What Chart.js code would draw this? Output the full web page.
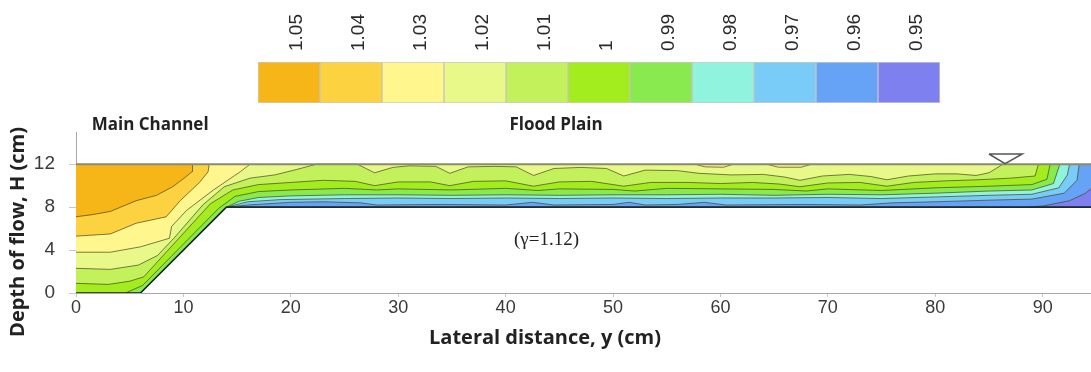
<!DOCTYPE html>
<html>
<head>
<meta charset="utf-8">
<script src="https://cdn.jsdelivr.net/npm/chart.js@4.4.0/dist/chart.umd.min.js"></script>
<style>
	body { margin: 0; background: #fff; }
	#wrap { position: relative; width: 1091px; height: 372px; }
	#main { position: absolute; left: 0; top: 0; }
	#scale { position: absolute; left: 250px; top: 0; }
</style>
</head>
<body>
<div id="wrap">
	<canvas id="main" width="1091" height="372"></canvas>
	<canvas id="scale" width="700" height="108"></canvas>
</div>
<script>
// colour scale (labels sit on the right edge of each cell)
const levelLabels = ['1.05', '1.04', '1.03', '1.02', '1.01', '1', '0.99', '0.98', '0.97', '0.96', '0.95'];
const levelColors = ['#f7b618', '#fcd241', '#fff68e', '#e8f98a', '#c3f15b', '#a3ec1d', '#89ea50', '#8ff3dd', '#79cbf8', '#66a2f5', '#7e80ef'];

// channel section [y (cm), H (cm)]
const bed = [[0, 0], [6, 0], [14, 8], [94.6, 8]];
const waterSurface = [[0, 12], [94.6, 12]];
const surfaceMark = [[85, 12.95], [88.1, 12.95], [86.5, 12.05], [85, 12.95]];

// contour lines [y, H], each region above a line up to the surface is >= its level
const c105 = [[0, 7.1], [1.5, 7.3], [3.2, 7.6], [5.6, 8.6], [7.5, 9.1], [9, 9.9], [10.2, 10.8], [10.8, 11.3], [10.85, 12]];
const c104 = [[0, 5.3], [3.2, 5.5], [5.6, 6.5], [8.4, 7.1], [9.7, 8.6], [11.5, 10.3], [12.3, 11.3], [12.4, 12]];
const c103 = [[0, 3.8], [3.2, 3.8], [6, 4.3], [8.7, 5.1], [8.9, 6.2], [10.3, 7.7], [12.8, 9.6], [15.3, 11.3], [16.2, 12]];
const pocketA = [[57.6, 12], [58.6, 11.75], [60.3, 11.72], [61.2, 12]];
const pocketB = [[64.3, 12], [65.4, 11.72], [67.5, 11.72], [68.5, 12]];
const c102 = [[0, 2.3], [3.2, 2.2], [5.8, 2.6], [7.6, 3.5], [9.2, 5.2], [11.8, 8.2], [13.8, 9.9], [16.2, 10.7],
	[18.5, 11.0], [20.5, 11.5], [22.4, 12], [26.2, 12], [27.8, 11.2], [29.5, 11.7], [31, 11.85], [33.5, 11.8],
	[34.8, 11.15], [36.5, 11.75], [39, 11.8], [41, 11.75], [42.6, 10.95], [44.5, 11.6], [47, 11.7], [49.4, 11.6],
	[51, 10.9], [53, 11.45], [56, 11.4], [58, 11.15], [61, 11.0], [64, 11.05], [66, 10.8], [67.4, 10.5],
	[69.5, 10.9], [72, 11.05], [74, 10.85], [75.5, 10.55], [77.5, 10.9], [80, 11.1], [82, 11.1], [83.8, 10.95],
	[85, 11.2], [86.3, 12]];
const c101 = [[0, 0.9], [3, 0.8], [5, 1.1], [6.3, 1.5], [12.5, 8.3], [14.6, 9.6], [17, 10.1], [20, 10.3],
	[23, 10.5], [26, 10.4], [27.8, 10.0], [30, 10.35], [33, 10.35], [34.8, 10.0], [37, 10.4], [40, 10.45],
	[42.6, 9.95], [45, 10.35], [48, 10.4], [51, 9.95], [53.5, 10.3], [57, 10.3], [60, 10.2], [63, 10.3],
	[65.5, 10.15], [67.4, 9.9], [70, 10.25], [73, 10.3], [75.5, 9.95], [78, 10.3], [81, 10.45], [84, 10.55],
	[87, 10.7], [89.3, 10.9], [89.6, 12]];
const c100 = [[0, 0], [4.6, 0], [6.2, 0.7], [13.3, 7.9], [14.8, 9.0], [17, 9.45], [20, 9.6], [25, 9.75],
	[28, 9.6], [30, 9.7], [35, 9.6], [40, 9.75], [43, 9.55], [45, 9.7], [50, 9.65], [52, 9.5], [55, 9.75],
	[60, 9.7], [65, 9.65], [68, 9.5], [70, 9.7], [75, 9.55], [80, 9.8], [85, 9.95], [89, 10.1], [90.4, 10.6], [90.7, 12]];
const c099 = [[0, 0], [6, 0], [14, 8], [15.2, 8.55], [17, 8.9], [20, 9.05], [25, 9.15], [30, 9.15], [35, 9.1],
	[40, 9.15], [45, 9.1], [50, 9.15], [55, 9.15], [60, 9.2], [65, 9.1], [70, 9.2], [75, 9.15], [80, 9.3],
	[85, 9.5], [89, 9.6], [91, 10.2], [91.6, 12]];
const c098 = [[0, 0], [6, 0], [14, 8], [16, 8.5], [19, 8.7], [25, 8.8], [30, 8.85], [35, 8.8], [40, 8.85],
	[45, 8.8], [50, 8.85], [55, 8.8], [60, 8.85], [65, 8.85], [70, 8.9], [75, 8.8], [80, 8.95], [85, 9.1],
	[89, 9.2], [91.5, 9.8], [92.3, 11], [92.5, 12]];
const c097 = [[0, 0], [6, 0], [14, 8], [16, 8.2], [20, 8.45], [23, 8.5], [26.5, 8.4], [28, 8.2], [34, 8.25],
	[40, 8.2], [42.5, 8.45], [44.5, 8.2], [50, 8.25], [51.5, 8.45], [53, 8.2], [56, 8.25], [58.5, 8.45], [60.5, 8.2],
	[68, 8.25], [73, 8.2], [76, 8.4], [80, 8.5], [85, 8.65], [89, 8.75], [92, 9.3], [93.2, 10.5], [93.4, 12]];
const c096 = [[0, 0], [6, 0], [14, 8], [88, 8], [90, 8.1], [92.5, 8.6], [94, 9.3], [94.6, 9.8]];

const tickFont = '"Liberation Sans", Arial, sans-serif';
const titleFont = '"Open Sans", "Liberation Sans", sans-serif';
const contourColor = 'rgba(70, 70, 30, 0.7)';

function toXY(pts) {
	return pts.map(p => ({ x: p[0], y: p[1] }));
}

// painted from the lowest level up
const layers = [
	{ pts: bed, color: levelColors[10] },
	{ pts: c096, color: levelColors[9] },
	{ pts: c097, color: levelColors[8] },
	{ pts: c098, color: levelColors[7] },
	{ pts: c099, color: levelColors[6] },
	{ pts: c100, color: levelColors[5] },
	{ pts: c101, color: levelColors[4] },
	{ pts: c102, color: levelColors[3] },
	{ pts: c103, color: levelColors[2] },
	{ pts: pocketA, color: levelColors[2] },
	{ pts: pocketB, color: levelColors[2] },
	{ pts: c104, color: levelColors[1] },
	{ pts: c105, color: levelColors[0] },
];

const datasets = layers.map((l, i) => ({
	data: toXY(l.pts),
	backgroundColor: l.color,
	borderColor: contourColor,
	borderWidth: 1,
	fill: { value: 12 },
	pointRadius: 0,
	tension: 0,
	order: 100 - i,
}));
datasets.push({ data: toXY(bed), borderColor: '#1d2b33', borderWidth: 1.6, fill: false, pointRadius: 0, order: 2 });
datasets.push({ data: toXY(waterSurface), borderColor: '#8a8a6e', borderWidth: 2, fill: false, pointRadius: 0, order: 1 });
datasets.push({ data: toXY(surfaceMark), borderColor: '#555', borderWidth: 1.5, fill: false, pointRadius: 0, order: 0 });

const notes = {
	id: 'notes',
	afterDraw(chart) {
		const { ctx } = chart;
		const x = chart.scales.x;
		const y = chart.scales.y;
		ctx.save();
		ctx.fillStyle = '#222';
		ctx.textAlign = 'center';
		ctx.textBaseline = 'middle';
		ctx.font = 'bold 17px ' + titleFont;
		ctx.fillText('Main Channel', x.getPixelForValue(6.9), 125);
		ctx.fillText('Flood Plain', x.getPixelForValue(44.7), 125);
		ctx.font = '19px "Liberation Serif", serif';
		ctx.fillText('(γ=1.12)', x.getPixelForValue(43.8), y.getPixelForValue(4.9));
		ctx.font = 'bold 20px ' + titleFont;
		ctx.fillText('Lateral distance, y (cm)', 545, 338);
		ctx.translate(18, 232);
		ctx.rotate(-Math.PI / 2);
		ctx.fillText('Depth of flow, H (cm)', 0, 0);
		ctx.restore();
	},
};

new Chart(document.getElementById('main'), {
	type: 'line',
	data: { datasets: datasets },
	options: {
		responsive: false,
		animation: false,
		events: [],
		layout: { padding: { top: 132, left: 0, right: 0, bottom: 0 } },
		plugins: { legend: { display: false }, tooltip: { enabled: false } },
		scales: {
			x: {
				type: 'linear',
				min: 0,
				max: 94.5,
				border: { color: '#a8a8a8', width: 1 },
				grid: { display: true, drawOnChartArea: false, drawTicks: true, tickLength: 4, color: '#c8c8c8' },
				ticks: { stepSize: 10, includeBounds: false, padding: 0, color: '#3a3a3a', font: { family: tickFont, size: 18 } },
				afterFit: s => { s.height = 79; },
			},
			y: {
				type: 'linear',
				min: 0,
				max: 15,
				border: { color: '#a8a8a8', width: 1 },
				grid: { display: true, drawOnChartArea: false, drawTicks: true, tickLength: 7, color: '#c8c8c8' },
				ticks: {
					stepSize: 2,
					includeBounds: false,
					padding: 14,
					color: '#3a3a3a',
					font: { family: tickFont, size: 19 },
					callback: v => (v % 4 === 0 ? v : ''),
				},
				afterFit: s => { s.width = 76; },
			},
		},
	},
	plugins: [notes],
});

new Chart(document.getElementById('scale'), {
	type: 'bar',
	data: {
		labels: [''],
		datasets: levelColors.map(c => ({
			data: [1],
			backgroundColor: c,
			borderColor: 'rgba(80, 80, 50, 0.3)',
			borderWidth: 1,
			borderSkipped: false,
			barPercentage: 1,
			categoryPercentage: 1,
		})),
	},
	options: {
		indexAxis: 'y',
		responsive: false,
		animation: false,
		events: [],
		layout: { padding: { left: 8, right: 10, bottom: 5, top: 0 } },
		plugins: { legend: { display: false }, tooltip: { enabled: false } },
		scales: {
			x: {
				type: 'linear',
				position: 'top',
				stacked: true,
				min: 0,
				max: 11,
				grid: { display: false },
				border: { display: false },
				ticks: {
					stepSize: 1,
					autoSkip: false,
					minRotation: 90,
					maxRotation: 90,
					padding: 3,
					color: '#2a2a2a',
					font: { family: tickFont, size: 19 },
					callback: v => (v > 0 ? levelLabels[v - 1] : ''),
				},
				afterFit: s => {
					s.height = 62;
					s.paddingLeft = 0;
					s.paddingRight = 0;
				},
			},
			y: { display: false, stacked: true },
		},
	},
});
</script>
</body>
</html>
